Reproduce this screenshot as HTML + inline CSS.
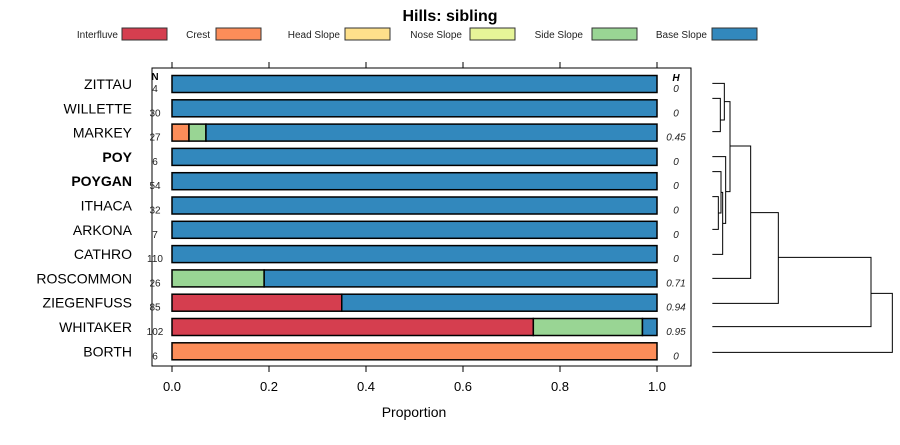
<!DOCTYPE html>
<html><head><meta charset="utf-8"><style>
body{margin:0;background:#fff;font-family:"Liberation Sans",sans-serif}
svg text{font-family:"Liberation Sans",sans-serif}
</style></head><body>
<svg width="900" height="440" viewBox="0 0 900 440">
<text x="450" y="21" font-size="16" font-weight="bold" text-anchor="middle">Hills: sibling</text>
<g id="legend"></g>
<rect x="152" y="68" width="539" height="298" fill="none" stroke="#000"/>
<g id="bars"></g>
<g id="axis"></g>
<text x="414" y="417" font-size="14" text-anchor="middle">Proportion</text>
<text x="155" y="80" font-size="10" font-weight="bold" text-anchor="middle">N</text>
<text x="676" y="81" font-size="10" font-weight="bold" font-style="italic" text-anchor="middle">H</text>
<g id="dend" fill="none" stroke="#000" stroke-width="1"></g>
</svg>
<script>
const legendLabels=["Interfluve","Crest","Head Slope","Nose Slope","Side Slope","Base Slope"];
const colors=["#D53E4F","#FC8D59","#FEE08B","#E6F598","#99D594","#3288BD"];
const series=["ZITTAU","WILLETTE","MARKEY","POY","POYGAN","ITHACA","ARKONA","CATHRO","ROSCOMMON","ZIEGENFUSS","WHITAKER","BORTH"];
const boldRows=["POY","POYGAN"];
const nVals=[4,30,27,6,54,32,7,110,26,85,102,6];
const hVals=["0","0","0.45","0","0","0","0","0","0.71","0.94","0.95","0"];
const interfluve=[0,0,0,0,0,0,0,0,0,0.35,0.745,0];
const crest=[0,0,0.035,0,0,0,0,0,0,0,0,1];
const headSlope=[0,0,0,0,0,0,0,0,0,0,0,0];
const noseSlope=[0,0,0,0,0,0,0,0,0,0,0,0];
const sideSlope=[0,0,0.035,0,0,0,0,0,0.19,0,0.225,0];
const baseSlope=[1,1,0.93,1,1,1,1,1,0.81,0.65,0.03,0];
const xTicks=[0,0.2,0.4,0.6,0.8,1.0];
const xTickLabels=["0.0","0.2","0.4","0.6","0.8","1.0"];
const NS="http://www.w3.org/2000/svg";
const xS=v=>172+v*485;
const yS=i=>84+i*24.3;
function mk(tag,attrs,parent){const e=document.createElementNS(NS,tag);for(const k in attrs)e.setAttribute(k,attrs[k]);parent.appendChild(e);return e;}
const lg=document.getElementById('legend');
const legX=[[118,122],[210,216],[340,345],[462,470],[583,592],[707,712]];
legendLabels.forEach((l,i)=>{
 const t=mk('text',{x:legX[i][0],y:38,'font-size':10,'text-anchor':'end',fill:'#222'},lg);t.textContent=l;
 
 
 const r=mk('rect',{x:legX[i][1],y:28,width:45,height:12,fill:colors[i],stroke:'#333'},lg);
 
 
});
const bg=document.getElementById('bars');
const comps=[interfluve,crest,headSlope,noseSlope,sideSlope,baseSlope];
series.forEach((s,i)=>{
 const y=yS(i);
 const lab=mk('text',{x:132,y:y+5,'font-size':14,'text-anchor':'end','font-weight':boldRows.includes(s)?'bold':'normal'},bg);lab.textContent=s;
 
 
 const n=mk('text',{x:155,y:y+8,'font-size':10,'text-anchor':'middle',fill:'#222'},bg);n.textContent=nVals[i];
 
 
 const h=mk('text',{x:676,y:y+8,'font-size':10,'font-style':'italic','text-anchor':'middle',fill:'#222'},bg);h.textContent=hVals[i];
 
 
 let cum=0;
 comps.forEach((c,k)=>{
  if(c[i]>0){
   const r=mk('rect',{x:xS(cum),y:y-8.5,width:xS(cum+c[i])-xS(cum),height:17,fill:colors[k],stroke:'#000','stroke-width':1.5},bg);
   
   
   cum+=c[i];
  }
 });
});
const ax=document.getElementById('axis');
xTicks.forEach((v,i)=>{
 mk('line',{x1:xS(v),x2:xS(v),y1:62,y2:68,stroke:'#000'},ax);
 mk('line',{x1:xS(v),x2:xS(v),y1:366,y2:372,stroke:'#000'},ax);
 const t=mk('text',{x:xS(v),y:391,'font-size':13,'text-anchor':'middle'},ax);t.textContent=xTickLabels[i];
 
 
});
const dg=document.getElementById('dend');
const X=z=>640+z/3, Y=z=>60+z/3;
function br(xz,y1,y2,xa,xb){
 mk('path',{d:`M${X(xa)},${Y(y1)}H${X(xz)}V${Y(y2)}H${X(xb)}`},dg);
}
const L=217;
br(241,115,215,L,L);
br(253,70,180,L,241);
br(235,410,508,L,L);
br(243,335,459,L,235);
br(248,397,583,243,L);
br(257,290,490,L,248);
br(270,125,395,253,257);
br(332,258,655,270,L);
br(415,458,730,332,L);
br(693,592,800,415,L);
br(757,700,877,693,L);
</script>
</body></html>
